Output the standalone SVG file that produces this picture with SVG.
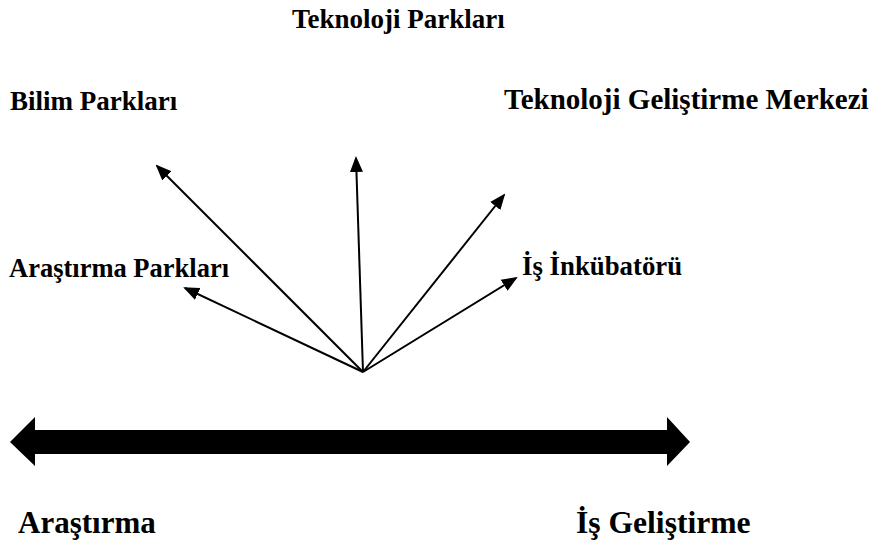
<svg xmlns="http://www.w3.org/2000/svg" width="877" height="543" viewBox="0 0 877 543">
<style>
.t{font-family:"Liberation Serif","Times New Roman",serif;font-weight:bold;fill:#000}
</style>
<defs>
<marker id="ah" markerUnits="userSpaceOnUse" markerWidth="16" markerHeight="14" refX="14" refY="6.5" orient="auto" viewBox="0 0 16 13">
<path d="M0,0 L16,6.5 L0,13 z" fill="#000"/>
</marker>
</defs>
<rect width="877" height="543" fill="#fff"/>
<g id="n-teknoloji-parklari"><text class="t" x="292" y="28" font-size="27">Teknoloji Parkları</text></g>
<g id="n-bilim-parklari"><text class="t" x="10" y="110" font-size="27">Bilim Parkları</text></g>
<g id="n-tgm"><text class="t" x="504" y="109" font-size="29">Teknoloji Geliştirme Merkezi</text></g>
<g id="n-arastirma-parklari"><text class="t" x="9" y="277" font-size="26.5">Araştırma Parkları</text></g>
<g id="n-is-inkubatoru"><text class="t" x="522" y="275" font-size="26.8">İş İnkübatörü</text></g>
<g id="n-axis">
<polygon points="10,442 35,417 35,430 667,430 667,417 690,442 667,466 667,454 35,454 35,466" fill="#000"/>
</g>
<g id="n-arastirma"><text class="t" x="18" y="533" font-size="31">Araştırma</text></g>
<g id="n-is-gelistirme"><text class="t" x="576" y="533" font-size="31.6">İş Geliştirme</text></g>
<g id="connectors" stroke="#000" stroke-width="2" fill="none">
<line x1="363" y1="372" x2="157" y2="166" marker-end="url(#ah)"/>
<line x1="363" y1="372" x2="356" y2="158" marker-end="url(#ah)"/>
<line x1="363" y1="372" x2="185" y2="288" marker-end="url(#ah)"/>
<line x1="363" y1="372" x2="504" y2="195" marker-end="url(#ah)"/>
<line x1="363" y1="372" x2="516" y2="278" marker-end="url(#ah)"/>
</g>
</svg>
